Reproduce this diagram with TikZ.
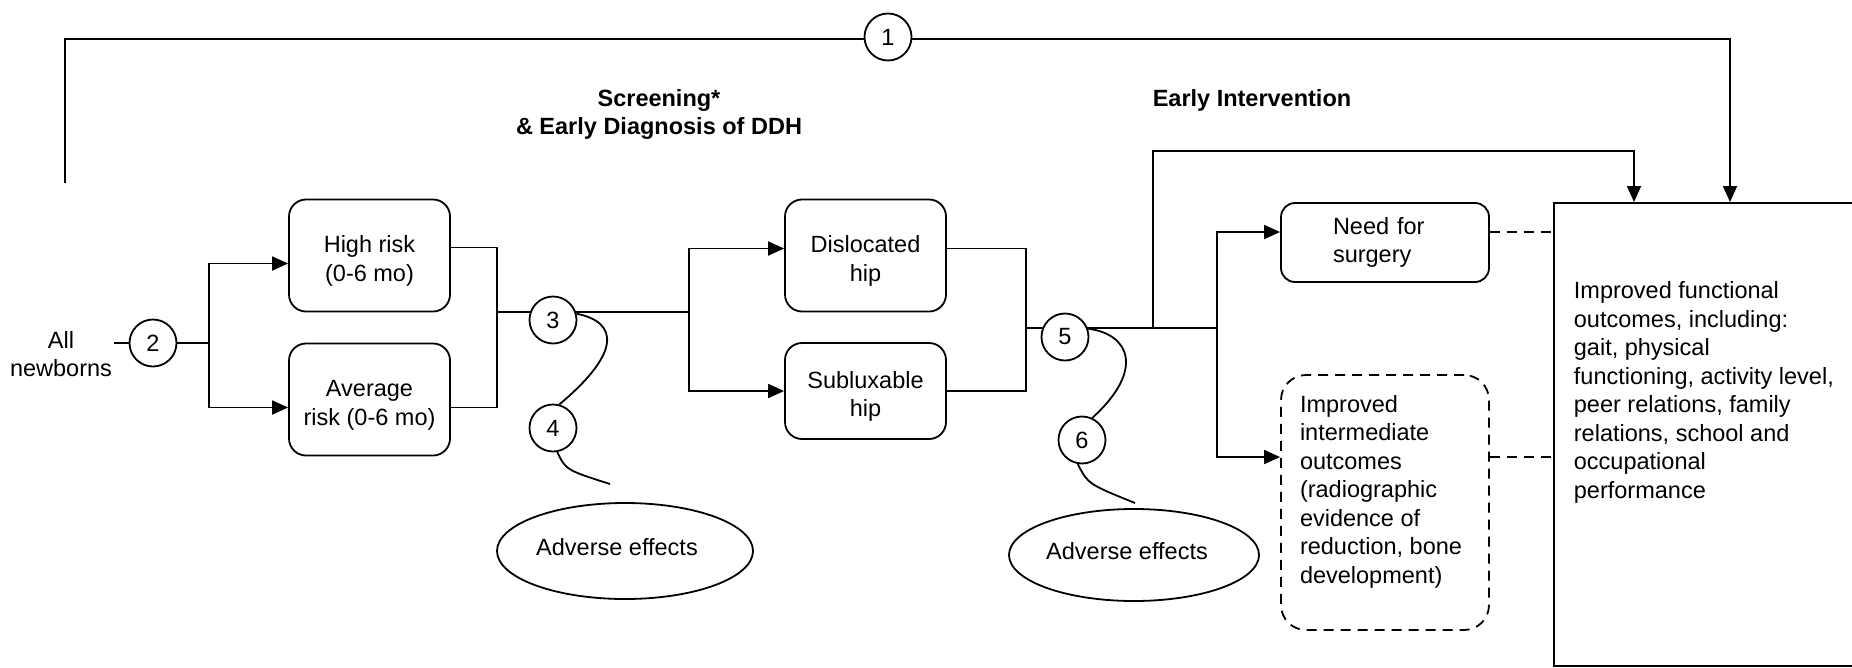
\documentclass[tikz,border=0pt]{standalone}
\usepackage{fontspec}
\setmainfont{Liberation Sans}
\usetikzlibrary{positioning, arrows.meta, shapes.geometric}

\begin{document}
\begin{tikzpicture}[x=1pt, y=-1pt, on grid, line width=1.8pt,
    >={Triangle[length=16pt,width=14pt]},
    every node/.style={font=\fontsize{23.5pt}{28.5pt}\selectfont},
    box/.style={draw, rounded corners=17pt, minimum width=161pt, align=center, inner sep=0pt,
      text height=56pt, text depth=5pt},
    num/.style={draw, circle, fill=white, minimum size=47pt, inner sep=0pt},
    effect/.style={draw, ellipse, minimum width=256pt, minimum height=96pt, text depth=8pt},
    title/.style={font=\fontsize{23.5pt}{28pt}\selectfont\bfseries, align=center}]
    \useasboundingbox (0,0) rectangle (1852,667);

    % stages
    \node[title] (scr) at (659,114.5) {Screening*\\\& Early Diagnosis of DDH};
    \node[title] (ei) at (1252,100.5) {Early Intervention};

    \node[align=center, inner sep=1pt] (nb) at (61,354) {All\\newborns};
    \node[box, minimum height=112pt] (high) at (369.5,255.5) {High risk\\(0-6 mo)};
    \node[box, minimum height=112pt, below=144pt of high] (avg) {Average\\risk (0-6 mo)};
    \node[box, minimum height=112pt, right=496pt of high] (disl) {Dislocated\\hip};
    \node[box, minimum height=96pt, below=135.5pt of disl] (subl) {Subluxable\\hip};
    \node[draw, rounded corners=14pt, minimum width=208pt, minimum height=79pt, align=left,
      text width=104pt, inner xsep=52pt, inner ysep=0pt] (need) at (1385,242.5) {Need for\\surgery};
    \node[draw, dash pattern=on 10pt off 7pt, rounded corners=25pt, minimum width=208pt, inner xsep=19pt, inner ysep=0pt] (inter) at (1385,502.5)
        {\parbox[c][255pt][t]{170pt}{\raggedright\vspace*{20pt}Improved\\intermediate\\outcomes\\(radiographic\\evidence of\\reduction, bone\\development)}};
    \node[draw, anchor=north west, inner xsep=20pt, inner ysep=0pt] (out) at (1553,202)
        {\parbox[c][463pt][t]{290pt}{\raggedright\vspace*{79pt}Improved functional\\outcomes, including:\\gait, physical\\functioning, activity level,\\peer relations, family\\relations, school and\\occupational\\performance}};
    \node[effect] (ae1) at (625,551) {\hspace*{-16pt}Adverse effects};
    \node[effect, minimum width=250pt, minimum height=92pt] (ae2) at (1134,555) {\hspace*{-14pt}Adverse effects};

    % bends
    \coordinate (topL) at (65,183);
    \coordinate (topR) at (1730,39);
    \coordinate (b1) at (209,343);
    \coordinate (b2) at (497,312);
    \coordinate (b3) at (689,312);
    \coordinate (b4) at (1026,328);
    \coordinate (b5) at (1217,328);
    \coordinate (b6) at (1153,328);
    \coordinate (up) at (1634,151);
    \coordinate (e1) at (610,484);
    \coordinate (e2) at (1135,503);

    \draw[->] (topL) |- (topR) -- (topR |- out.north);
    \draw (nb.east |- b1) -- (b1);
    \draw[->] (b1) |- ([yshift=-8pt]high.west);
    \draw[->] (b1) |- ([yshift=-8pt]avg.west);
    \draw ([yshift=8pt]high.east) -| (b2) |- ([yshift=-8pt]avg.east);
    \draw (b2) -- (b3);
    \draw[->] (b3) |- ([yshift=7pt]disl.west);
    \draw[->] (b3) |- (subl.west);
    \draw ([yshift=7pt]disl.east) -| (b4) |- (subl.east);
    \draw (b4) -- (b5);
    \draw[->] (b5) |- ([yshift=10.5pt]need.west);
    \draw[->] (b5) |- ([yshift=45.5pt]inter.west);
    \draw[->] (b6) |- (up) -- (up |- out.north);
    \draw[dash pattern=on 10pt off 7pt] ([yshift=10.5pt]need.east) -- ([yshift=10.5pt]need.east -| out.west);
    \draw[dash pattern=on 10pt off 7pt] ([yshift=45.5pt]inter.east) -- ([yshift=45.5pt]inter.east -| out.west);

    % key questions
    \node[num] (c1) at (888,37) {1};
    \node[num] (c2) at (153,343) {2};
    \node[num] (c3) at (553,320) {3};
    \node[num] (c4) at (553,428) {4};
    \node[num] (c5) at (1065,337) {5};
    \node[num] (c6) at (1082,440) {6};

    \draw (c3.15) .. controls (618,322) and (622,352) .. (c4.75);
    \draw (c4.-80) .. controls (566,470) .. (e1);
    \draw (c5.20) .. controls (1130,334) and (1145,370) .. (c6.65);
    \draw (c6.-100) .. controls (1088,484) .. (e2);
\end{tikzpicture}
\end{document}
